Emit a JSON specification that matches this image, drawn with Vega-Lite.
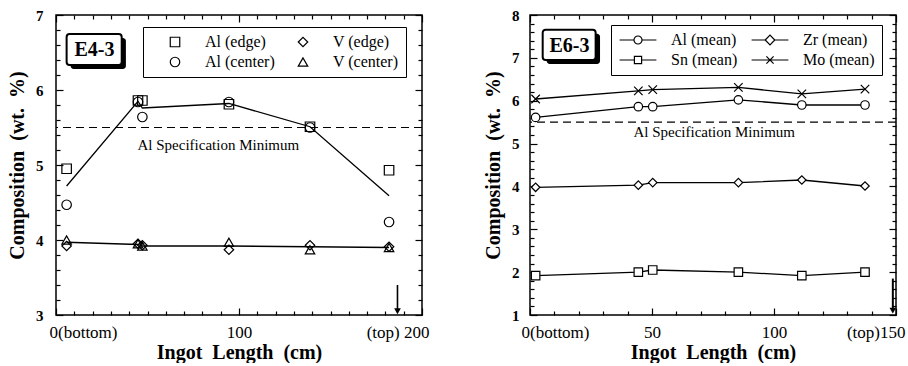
{
  "$schema": "https://vega.github.io/schema/vega-lite/v6.json",
  "padding": {"left": 6, "top": 7, "right": 0, "bottom": 0},
  "datasets": {
    "one": [{}],
    "e4pts": [
      {"x": 5.8, "y": 4.95, "series": "Al (edge)"},
      {"x": 44.8, "y": 5.86, "series": "Al (edge)"},
      {"x": 47.2, "y": 5.86, "series": "Al (edge)"},
      {"x": 94.5, "y": 5.81, "series": "Al (edge)"},
      {"x": 138.8, "y": 5.51, "series": "Al (edge)"},
      {"x": 182, "y": 4.93, "series": "Al (edge)"},
      {"x": 5.8, "y": 4.47, "series": "Al (center)"},
      {"x": 44.8, "y": 5.84, "series": "Al (center)"},
      {"x": 47.2, "y": 5.64, "series": "Al (center)"},
      {"x": 94.5, "y": 5.84, "series": "Al (center)"},
      {"x": 138.8, "y": 5.5, "series": "Al (center)"},
      {"x": 182, "y": 4.24, "series": "Al (center)"},
      {"x": 5.8, "y": 3.92, "series": "V (edge)"},
      {"x": 44.8, "y": 3.95, "series": "V (edge)"},
      {"x": 47.2, "y": 3.93, "series": "V (edge)"},
      {"x": 94.5, "y": 3.87, "series": "V (edge)"},
      {"x": 138.8, "y": 3.93, "series": "V (edge)"},
      {"x": 182, "y": 3.91, "series": "V (edge)"},
      {"x": 5.8, "y": 4.0, "series": "V (center)"},
      {"x": 44.8, "y": 3.95, "series": "V (center)"},
      {"x": 47.2, "y": 3.92, "series": "V (center)"},
      {"x": 94.5, "y": 3.97, "series": "V (center)"},
      {"x": 138.8, "y": 3.87, "series": "V (center)"},
      {"x": 182, "y": 3.9, "series": "V (center)"}
    ],
    "e4lines": [
      {"x": 5.8, "y": 4.72, "element": "Al"},
      {"x": 44.8, "y": 5.85, "element": "Al"},
      {"x": 47.2, "y": 5.76, "element": "Al"},
      {"x": 94.5, "y": 5.82, "element": "Al"},
      {"x": 138.8, "y": 5.51, "element": "Al"},
      {"x": 182, "y": 4.59, "element": "Al"},
      {"x": 5.8, "y": 3.97, "element": "V"},
      {"x": 44.8, "y": 3.94, "element": "V"},
      {"x": 47.2, "y": 3.92, "element": "V"},
      {"x": 94.5, "y": 3.92, "element": "V"},
      {"x": 138.8, "y": 3.91, "element": "V"},
      {"x": 182, "y": 3.9, "element": "V"}
    ],
    "e6": [
      {"x": 2.3, "y": 5.61, "series": "Al (mean)"},
      {"x": 44.4, "y": 5.86, "series": "Al (mean)"},
      {"x": 50.3, "y": 5.86, "series": "Al (mean)"},
      {"x": 85.4, "y": 6.02, "series": "Al (mean)"},
      {"x": 111.4, "y": 5.9, "series": "Al (mean)"},
      {"x": 137.3, "y": 5.9, "series": "Al (mean)"},
      {"x": 2.3, "y": 3.98, "series": "Zr (mean)"},
      {"x": 44.4, "y": 4.03, "series": "Zr (mean)"},
      {"x": 50.3, "y": 4.09, "series": "Zr (mean)"},
      {"x": 85.4, "y": 4.09, "series": "Zr (mean)"},
      {"x": 111.4, "y": 4.15, "series": "Zr (mean)"},
      {"x": 137.3, "y": 4.01, "series": "Zr (mean)"},
      {"x": 2.3, "y": 1.92, "series": "Sn (mean)"},
      {"x": 44.4, "y": 2.0, "series": "Sn (mean)"},
      {"x": 50.3, "y": 2.05, "series": "Sn (mean)"},
      {"x": 85.4, "y": 2.0, "series": "Sn (mean)"},
      {"x": 111.4, "y": 1.92, "series": "Sn (mean)"},
      {"x": 137.3, "y": 2.0, "series": "Sn (mean)"},
      {"x": 2.3, "y": 6.04, "series": "Mo (mean)"},
      {"x": 44.4, "y": 6.23, "series": "Mo (mean)"},
      {"x": 50.3, "y": 6.26, "series": "Mo (mean)"},
      {"x": 85.4, "y": 6.31, "series": "Mo (mean)"},
      {"x": 111.4, "y": 6.16, "series": "Mo (mean)"},
      {"x": 137.3, "y": 6.27, "series": "Mo (mean)"}
    ]
  },
  "hconcat": [
    {
      "width": 366,
      "height": 300,
      "data": {"name": "e4pts"},
      "resolve": {"axis": {"x": "independent", "y": "independent"}},
      "layer": [
        {
          "layer": [
            {
              "data": {"name": "one"},
              "mark": {"type": "rect", "fill": "black", "cornerRadius": 3},
              "encoding": {
                "x": {"datum": 8.0, "axis": null}, "x2": {"datum": 38.2},
                "y": {"datum": 6.693, "axis": null}, "y2": {"datum": 6.28}
              }
            },
            {
              "data": {"name": "one"},
              "mark": {"type": "rect", "fill": "white", "stroke": "black", "strokeWidth": 2, "cornerRadius": 3},
              "encoding": {
                "x": {"datum": 5.8, "axis": null}, "x2": {"datum": 35.9},
                "y": {"datum": 6.747, "axis": null}, "y2": {"datum": 6.333}
              }
            },
            {
              "data": {"name": "one"},
              "mark": {"type": "text", "font": "Liberation Serif", "fontWeight": "bold", "fontSize": 20, "color": "black", "align": "center", "baseline": "middle"},
              "encoding": {
                "x": {"datum": 21, "axis": null}, "y": {"datum": 6.53, "axis": null},
                "text": {"value": "E4-3"}
              }
            },
            {
              "data": {"name": "one"},
              "mark": {"type": "rule", "strokeDash": [8, 5], "strokeWidth": 1.2, "color": "black"},
              "encoding": {"y": {"datum": 5.5, "axis": null}}
            },
            {
              "data": {"name": "one"},
              "mark": {"type": "text", "font": "Liberation Serif", "fontSize": 15, "color": "black", "align": "center", "baseline": "middle"},
              "encoding": {
                "x": {"datum": 88.7, "axis": null}, "y": {"datum": 5.27, "axis": null},
                "text": {"value": "Al Specification Minimum"}
              }
            },
            {
              "data": {"name": "e4lines"},
              "mark": {"type": "line", "color": "black", "strokeWidth": 1.3},
              "encoding": {
                "x": {"field": "x", "type": "quantitative", "axis": null},
                "y": {"field": "y", "type": "quantitative", "axis": null},
                "detail": {"field": "element"}
              }
            },
            {
              "data": {"name": "one"},
              "mark": {"type": "rule", "color": "black", "strokeWidth": 1.6},
              "encoding": {
                "x": {"datum": 186.6, "axis": null},
                "y": {"datum": 3.4, "axis": null}, "y2": {"datum": 3.05}
              }
            },
            {
              "data": {"name": "one"},
              "mark": {"type": "point", "shape": "triangle-down", "filled": true, "color": "black", "size": 45, "opacity": 1},
              "encoding": {
                "x": {"datum": 186.6, "axis": null},
                "y": {"datum": 3.05, "axis": null}
              }
            },
            {
              "mark": {"type": "point", "filled": false, "stroke": "black", "strokeWidth": 1.2, "size": 90, "opacity": 1},
              "encoding": {
                "x": {"field": "x", "type": "quantitative", "scale": {"domain": [0, 200], "nice": false, "zero": false}, "axis": null},
                "y": {"field": "y", "type": "quantitative", "scale": {"domain": [3, 7], "nice": false, "zero": false}, "axis": null},
                "shape": {
                  "field": "series", "type": "nominal",
                  "scale": {"domain": ["Al (edge)", "V (edge)", "Al (center)", "V (center)"], "range": ["square", "diamond", "circle", "triangle-up"]},
                  "legend": {
                    "title": null,
                    "orient": "none",
                    "legendX": 87,
                    "legendY": 12,
                    "columns": 2,
                    "direction": "horizontal",
                    "strokeColor": "black",
                    "fillColor": "white",
                    "padding": 7,
                    "symbolOffset": 17,
                    "labelOffset": 22,
                    "columnPadding": 3,
                    "rowPadding": 4,
                    "symbolSize": 90,
                    "symbolStrokeColor": "black",
                    "symbolStrokeWidth": 1.2,
                    "labelFont": "Liberation Serif",
                    "labelFontSize": 16,
                    "labelColor": "black"
                  }
                }
              }
            }
          ]
        },
        {
          "mark": {"type": "point", "opacity": 0},
          "encoding": {
            "x": {
              "field": "x", "type": "quantitative",
              "scale": {"domain": [0, 200], "nice": false, "zero": false},
              "axis": {
                "orient": "bottom",
                "ticks": false,
                "values": [0, 100, 200],
                "labelExpr": "datum.value == 0 ? '0(bottom)' : datum.value == 100 ? '100' : '(top) 200'",
                "labelOverlap": false,
                "labelFlush": true,
                "labelFlushOffset": 7,
                "labelFontSize": 17,
                "labelPadding": 9,
                "title": "Ingot\u00a0 Length\u00a0 (cm)",
                "titlePadding": 2
              }
            },
            "y": {
              "field": "y", "type": "quantitative",
              "scale": {"domain": [3, 7], "nice": false, "zero": false},
              "axis": {
                "orient": "left",
                "ticks": false,
                "values": [3, 4, 5, 6, 7],
                "format": "d",
                "labelOverlap": false,
                "labelFlush": false,
                "labelFontSize": 15,
                "labelFontWeight": "bold",
                "labelPadding": 13,
                "title": "Composition\u00a0 (wt.\u00a0 %)",
                "titlePadding": 8
              }
            }
          }
        },
        {
          "mark": {"type": "point", "opacity": 0},
          "encoding": {
            "x": {
              "field": "x", "type": "quantitative",
              "axis": {
                "orient": "bottom", "labels": false, "title": null,
                "values": [0,10,20,30,40,50,60,70,80,90,100,110,120,130,140,150,160,170,180,190,200],
                "tickSize": {"condition": {"test": "datum.value % 100 == 0", "value": -7}, "value": -4}
              }
            },
            "y": {
              "field": "y", "type": "quantitative",
              "axis": {
                "orient": "left", "labels": false, "title": null,
                "values": [3,3.2,3.4,3.6,3.8,4,4.2,4.4,4.6,4.8,5,5.2,5.4,5.6,5.8,6,6.2,6.4,6.6,6.8,7],
                "tickSize": {"condition": {"test": "abs(datum.value - round(datum.value)) < 0.001", "value": -7}, "value": -4}
              }
            }
          }
        },
        {
          "mark": {"type": "point", "opacity": 0},
          "encoding": {
            "x": {
              "field": "x", "type": "quantitative",
              "axis": {
                "orient": "top", "labels": false, "title": null,
                "values": [0,10,20,30,40,50,60,70,80,90,100,110,120,130,140,150,160,170,180,190,200],
                "tickSize": {"condition": {"test": "datum.value % 100 == 0", "value": -7}, "value": -4}
              }
            },
            "y": {
              "field": "y", "type": "quantitative",
              "axis": {
                "orient": "right", "labels": false, "title": null,
                "values": [3,3.2,3.4,3.6,3.8,4,4.2,4.4,4.6,4.8,5,5.2,5.4,5.6,5.8,6,6.2,6.4,6.6,6.8,7],
                "tickSize": {"condition": {"test": "abs(datum.value - round(datum.value)) < 0.001", "value": -7}, "value": -4}
              }
            }
          }
        }
      ]
    },
    {
      "width": 366,
      "height": 300,
      "data": {"name": "e6"},
      "resolve": {"axis": {"x": "independent", "y": "independent"}},
      "layer": [
        {
          "resolve": {"scale": {"shape": "independent"}},
          "layer": [
            {
              "data": {"name": "one"},
              "mark": {"type": "rect", "fill": "black", "cornerRadius": 3},
              "encoding": {
                "x": {"datum": 6.85, "axis": null}, "x2": {"datum": 28.7},
                "y": {"datum": 7.564, "axis": null}, "y2": {"datum": 6.857}
              }
            },
            {
              "data": {"name": "one"},
              "mark": {"type": "rect", "fill": "white", "stroke": "black", "strokeWidth": 2, "cornerRadius": 3},
              "encoding": {
                "x": {"datum": 5.2, "axis": null}, "x2": {"datum": 26.9},
                "y": {"datum": 7.657, "axis": null}, "y2": {"datum": 6.95}
              }
            },
            {
              "data": {"name": "one"},
              "mark": {"type": "text", "font": "Liberation Serif", "fontWeight": "bold", "fontSize": 20, "color": "black", "align": "center", "baseline": "middle"},
              "encoding": {
                "x": {"datum": 16.2, "axis": null}, "y": {"datum": 7.28, "axis": null},
                "text": {"value": "E6-3"}
              }
            },
            {
              "data": {"name": "one"},
              "mark": {"type": "rule", "strokeDash": [8, 5], "strokeWidth": 1.2, "color": "black"},
              "encoding": {"y": {"datum": 5.5, "axis": null}}
            },
            {
              "data": {"name": "one"},
              "mark": {"type": "text", "font": "Liberation Serif", "fontSize": 15, "color": "black", "align": "center", "baseline": "middle"},
              "encoding": {
                "x": {"datum": 75.5, "axis": null}, "y": {"datum": 5.26, "axis": null},
                "text": {"value": "Al Specification Minimum"}
              }
            },
            {
              "mark": {"type": "line", "color": "black", "strokeWidth": 1.3},
              "encoding": {
                "x": {"field": "x", "type": "quantitative", "axis": null},
                "y": {"field": "y", "type": "quantitative", "axis": null},
                "detail": {"field": "series"}
              }
            },
            {
              "data": {"name": "one"},
              "mark": {"type": "rule", "color": "black", "strokeWidth": 2},
              "encoding": {
                "x": {"datum": 148.7, "axis": null},
                "y": {"datum": 1.85, "axis": null}, "y2": {"datum": 1.1}
              }
            },
            {
              "data": {"name": "one"},
              "mark": {"type": "point", "shape": "triangle-down", "filled": true, "color": "black", "size": 45, "opacity": 1},
              "encoding": {
                "x": {"datum": 148.7, "axis": null},
                "y": {"datum": 1.1, "axis": null}
              }
            },
            {
              "mark": {"type": "point", "filled": true, "fill": "white", "stroke": "black", "strokeWidth": 1.2, "size": 72, "opacity": 1},
              "encoding": {
                "x": {"field": "x", "type": "quantitative", "scale": {"domain": [0, 150], "nice": false, "zero": false}, "axis": null},
                "y": {"field": "y", "type": "quantitative", "scale": {"domain": [1, 8], "nice": false, "zero": false}, "axis": null},
                "shape": {
                  "field": "series", "type": "nominal",
                  "scale": {"domain": ["Al (mean)", "Zr (mean)", "Sn (mean)", "Mo (mean)"], "range": ["circle", "diamond", "square", "M-1,-1L1,1M-1,1L1,-1"]},
                  "legend": null
                }
              }
            },
            {
              "transform": [{"filter": "false"}],
              "mark": {"type": "point", "filled": false, "stroke": "black", "strokeWidth": 1.2, "size": 64, "opacity": 1},
              "encoding": {
                "shape": {
                  "field": "series", "type": "nominal",
                  "scale": {
                    "domain": ["Al (mean)", "Zr (mean)", "Sn (mean)", "Mo (mean)"],
                    "range": [
                      "M-4.6,0H-1M1,0H4.6M-1,0A1,1,0,1,1,1,0A1,1,0,1,1,-1,0",
                      "M-4.6,0H-1.2M1.2,0H4.6M-1.2,0L0,-1.2L1.2,0L0,1.2Z",
                      "M-4.6,0H-0.9M0.9,0H4.6M-0.9,-0.9H0.9V0.9H-0.9Z",
                      "M-4.6,0H4.6M-0.9,-0.9L0.9,0.9M-0.9,0.9L0.9,-0.9"
                    ]
                  },
                  "legend": {
                    "title": null,
                    "orient": "none",
                    "legendX": 81,
                    "legendY": 10,
                    "columns": 2,
                    "direction": "horizontal",
                    "strokeColor": "black",
                    "fillColor": "white",
                    "padding": 7,
                    "symbolOffset": 12,
                    "labelOffset": 25,
                    "columnPadding": 11,
                    "rowPadding": 4,
                    "symbolSize": 64,
                    "symbolStrokeColor": "black",
                    "symbolStrokeWidth": 1.2,
                    "labelFont": "Liberation Serif",
                    "labelFontSize": 16,
                    "labelColor": "black"
                  }
                }
              }
            }
          ]
        },
        {
          "mark": {"type": "point", "opacity": 0},
          "encoding": {
            "x": {
              "field": "x", "type": "quantitative",
              "scale": {"domain": [0, 150], "nice": false, "zero": false},
              "axis": {
                "orient": "bottom",
                "ticks": false,
                "values": [0, 50, 100, 150],
                "labelExpr": "datum.value == 0 ? '0(bottom)' : datum.value == 150 ? '(top)150' : datum.label",
                "labelOverlap": false,
                "labelFlush": true,
                "labelFlushOffset": 9,
                "labelFontSize": 17,
                "labelPadding": 9,
                "title": "Ingot\u00a0 Length\u00a0 (cm)",
                "titlePadding": 2
              }
            },
            "y": {
              "field": "y", "type": "quantitative",
              "scale": {"domain": [1, 8], "nice": false, "zero": false},
              "axis": {
                "orient": "left",
                "ticks": false,
                "values": [1, 2, 3, 4, 5, 6, 7, 8],
                "format": "d",
                "labelOverlap": false,
                "labelFlush": false,
                "labelFontSize": 15,
                "labelFontWeight": "bold",
                "labelPadding": 11,
                "title": "Composition\u00a0 (wt.\u00a0 %)",
                "titlePadding": 8
              }
            }
          }
        },
        {
          "mark": {"type": "point", "opacity": 0},
          "encoding": {
            "x": {
              "field": "x", "type": "quantitative",
              "axis": {
                "orient": "bottom", "labels": false, "title": null,
                "values": [0,10,20,30,40,50,60,70,80,90,100,110,120,130,140,150],
                "tickSize": {"condition": {"test": "datum.value % 50 == 0", "value": -7}, "value": -4}
              }
            },
            "y": {
              "field": "y", "type": "quantitative",
              "axis": {
                "orient": "left", "labels": false, "title": null,
                "values": [1,1.2,1.4,1.6,1.8,2,2.2,2.4,2.6,2.8,3,3.2,3.4,3.6,3.8,4,4.2,4.4,4.6,4.8,5,5.2,5.4,5.6,5.8,6,6.2,6.4,6.6,6.8,7,7.2,7.4,7.6,7.8,8],
                "tickSize": {"condition": {"test": "abs(datum.value - round(datum.value)) < 0.001", "value": -7}, "value": -4}
              }
            }
          }
        },
        {
          "mark": {"type": "point", "opacity": 0},
          "encoding": {
            "x": {
              "field": "x", "type": "quantitative",
              "axis": {
                "orient": "top", "labels": false, "title": null,
                "values": [0,10,20,30,40,50,60,70,80,90,100,110,120,130,140,150],
                "tickSize": {"condition": {"test": "datum.value % 50 == 0", "value": -7}, "value": -4}
              }
            },
            "y": {
              "field": "y", "type": "quantitative",
              "axis": {
                "orient": "right", "labels": false, "title": null,
                "values": [1,1.2,1.4,1.6,1.8,2,2.2,2.4,2.6,2.8,3,3.2,3.4,3.6,3.8,4,4.2,4.4,4.6,4.8,5,5.2,5.4,5.6,5.8,6,6.2,6.4,6.6,6.8,7,7.2,7.4,7.6,7.8,8],
                "tickSize": {"condition": {"test": "abs(datum.value - round(datum.value)) < 0.001", "value": -7}, "value": -4}
              }
            }
          }
        }
      ]
    }
  ],
  "spacing": 108,
  "bounds": "flush",
  "resolve": {
    "scale": {"shape": "independent", "x": "independent", "y": "independent"},
    "legend": {"shape": "independent"}
  },
  "config": {
    "view": {"stroke": "black", "strokeWidth": 1.5},
    "font": "Liberation Serif",
    "axis": {
      "domain": false,
      "grid": false,
      "tickColor": "black",
      "tickWidth": 1.2,
      "labelColor": "black",
      "titleColor": "black",
      "labelFont": "Liberation Serif",
      "titleFont": "Liberation Serif",
      "titleFontWeight": "bold",
      "titleFontSize": 20
    }
  }
}
